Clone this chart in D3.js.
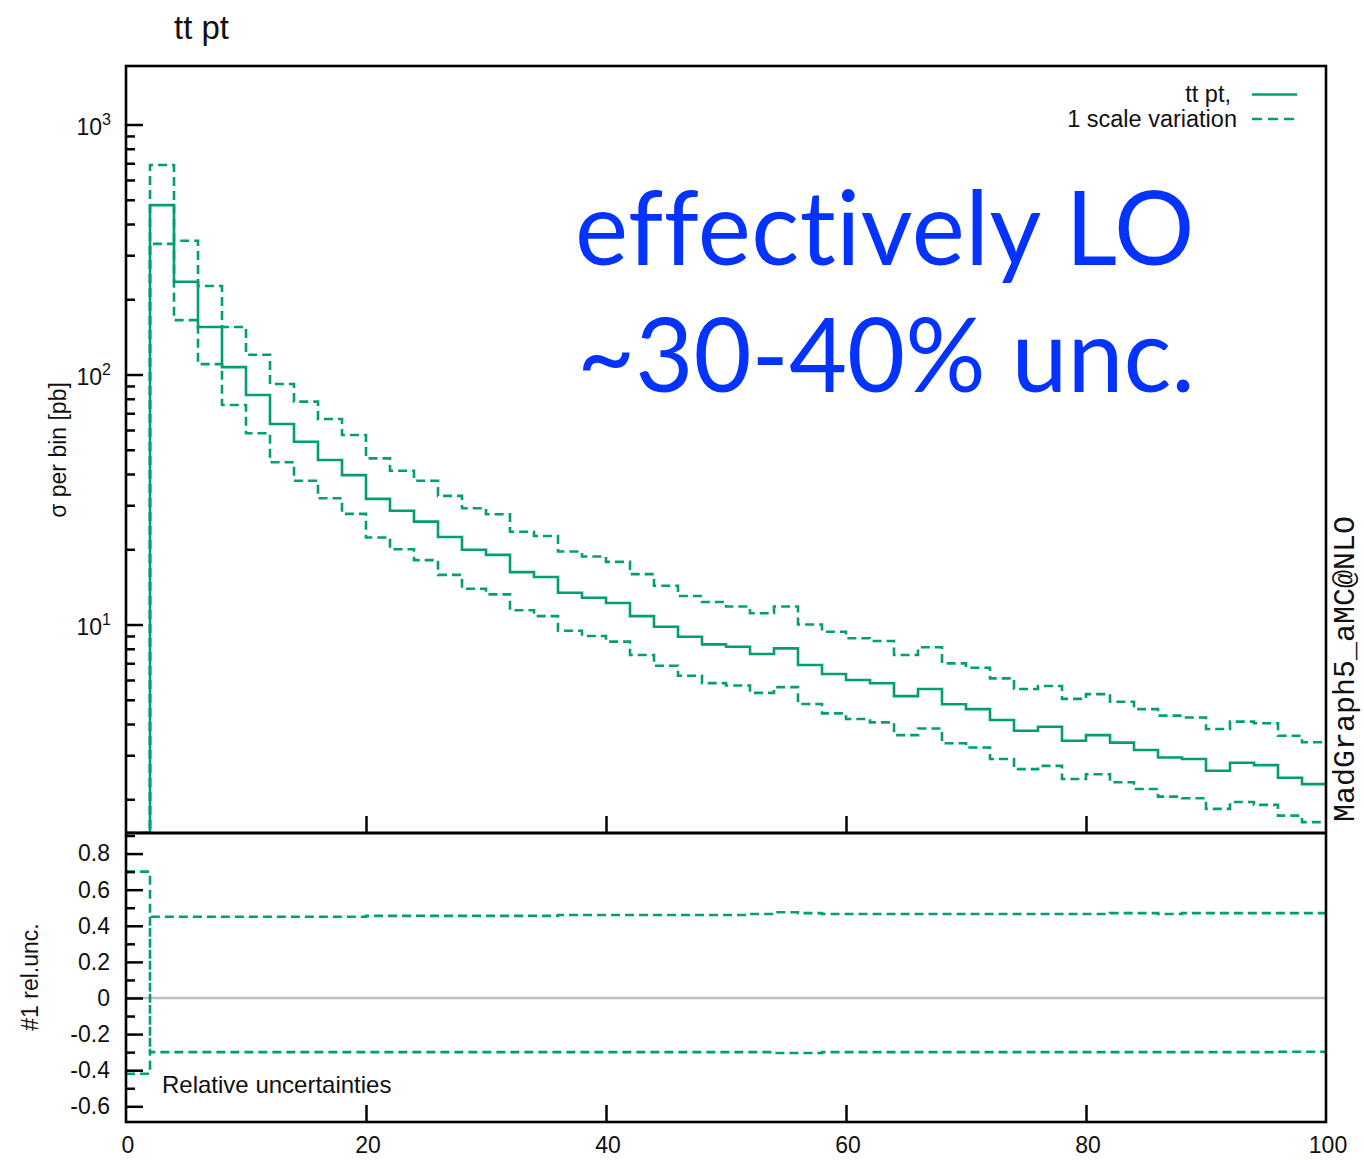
<!DOCTYPE html>
<html><head><meta charset="utf-8">
<script src="https://cdn.jsdelivr.net/npm/d3@7"></script>
<style>
body{margin:0;background:#fff}
svg{display:block}
text{font-family:"Liberation Sans",Arial,Helvetica,sans-serif;fill:#111}
</style>
</head><body>
<svg id="c" width="1364" height="1160"></svg>
<script>
// ---- data (bins of width 2 GeV, lower edges) ----
const binLow = [0,2,4,6,8,10,12,14,16,18,20,22,24,26,28,30,32,34,36,38,40,42,44,46,48,
                50,52,54,56,58,60,62,64,66,68,70,72,74,76,78,80,82,84,86,88,90,92,94,96,98];
const binWidth = 2;
const central = [0,476,235,155,107,82.8,63.4,53.8,45.5,39.6,31.8,28.5,25.8,22.4,19.9,19.0,16.2,15.5,13.4,12.8,
                 12.2,10.8,9.8,8.94,8.33,8.15,7.62,8.03,6.89,6.34,6.0,5.82,5.17,5.52,4.80,4.59,4.15,3.76,3.90,3.43,
                 3.61,3.37,3.15,2.94,2.90,2.60,2.80,2.74,2.44,2.30];
const scaleUp = [0,689,343,226,155,120,91.6,77.9,66.4,57.3,46.2,41.2,37.6,32.7,29.2,27.6,23.5,22.6,19.6,18.7,
                 17.8,15.9,14.3,13.0,12.3,11.8,11.1,11.8,10.0,9.36,8.81,8.59,7.55,8.11,6.99,6.72,6.09,5.52,5.68,5.04,
                 5.27,4.91,4.59,4.32,4.25,3.82,4.09,4.03,3.59,3.38];
const scaleDn = [0,333,165,110,75.5,58.2,44.6,37.6,32.0,27.7,22.3,20.0,18.1,15.8,13.9,13.2,11.4,10.8,9.44,9.0,
                 8.54,7.55,6.84,6.24,5.83,5.70,5.33,5.62,4.81,4.41,4.19,4.06,3.61,3.84,3.35,3.22,2.90,2.64,2.72,2.41,
                 2.52,2.34,2.20,2.05,2.02,1.83,1.95,1.90,1.72,1.62];
const relUp = [0.70,0.45,0.45,0.45,0.45,0.45,0.45,0.45,0.45,0.45,0.455,0.455,0.455,0.455,0.455,0.455,0.455,0.455,0.46,0.46,
               0.46,0.46,0.46,0.46,0.46,0.46,0.465,0.475,0.47,0.465,0.465,0.465,0.465,0.465,0.465,0.465,0.465,0.465,0.465,0.465,
               0.465,0.47,0.47,0.465,0.47,0.47,0.47,0.47,0.47,0.47];
const relDn = [-0.42,-0.30,-0.30,-0.30,-0.30,-0.30,-0.30,-0.30,-0.30,-0.30,-0.30,-0.30,-0.30,-0.30,-0.30,-0.30,-0.30,-0.30,-0.30,-0.30,
               -0.30,-0.30,-0.30,-0.30,-0.30,-0.30,-0.30,-0.305,-0.305,-0.30,-0.30,-0.30,-0.30,-0.30,-0.30,-0.30,-0.30,-0.30,-0.30,-0.30,
               -0.30,-0.30,-0.30,-0.30,-0.30,-0.30,-0.30,-0.30,-0.298,-0.298];
const mainMajor = [10,100,1000];
const mainMinor = [2,3,4,5,6,7,8,9,20,30,40,50,60,70,80,90,200,300,400,500,600,700,800,900];
const relMajor = [0.8,0.6,0.4,0.2,0,-0.2,-0.4,-0.6];
const relMinor = [0.9,0.7,0.5,0.3,0.1,-0.1,-0.3,-0.5];
const xLabels = [0,20,40,60,80,100];
const xInner = [20,40,60,80];

// ---- layout ----
const L=126,R=1326,T=66,MB=833,B=1122;
const green="#009E73";
const svg=d3.select("#c");
const x=d3.scaleLinear().domain([0,100]).range([L,R]);
const y=d3.scaleLog().domain([1.466,1714]).range([MB,T]).clamp(true);
const yr=d3.scaleLinear().domain([-0.687,0.914]).range([B,MB]);

svg.append("defs").append("clipPath").attr("id","cm").append("rect").attr("x",L).attr("y",T).attr("width",R-L).attr("height",MB-T);
svg.select("defs").append("clipPath").attr("id","cr").append("rect").attr("x",L).attr("y",MB).attr("width",R-L).attr("height",B-MB);

function stepPts(vals){
  const p=[];
  vals.forEach((v,i)=>{p.push([binLow[i],v]);p.push([binLow[i]+binWidth,v]);});
  return p;
}
const lineMain=d3.line().x(d=>x(d[0])).y(d=>y(Math.max(d[1],1e-3)));
const lineRel=d3.line().x(d=>x(d[0])).y(d=>yr(d[1]));

// zero line in ratio panel
svg.append("line").attr("x1",L).attr("x2",R).attr("y1",yr(0)).attr("y2",yr(0))
  .attr("stroke","#c0c0c0").attr("stroke-width",2.5);

const gm=svg.append("g").attr("clip-path","url(#cm)");
gm.append("path").attr("d",lineMain(stepPts(scaleUp))).attr("fill","none").attr("stroke",green).attr("stroke-width",2.6).attr("stroke-dasharray","9,5");
gm.append("path").attr("d",lineMain(stepPts(scaleDn))).attr("fill","none").attr("stroke",green).attr("stroke-width",2.6).attr("stroke-dasharray","9,5");
gm.append("path").attr("d",lineMain(stepPts(central))).attr("fill","none").attr("stroke",green).attr("stroke-width",2.6);

const gr=svg.append("g").attr("clip-path","url(#cr)");
gr.append("path").attr("d",lineRel(stepPts(relUp))).attr("fill","none").attr("stroke",green).attr("stroke-width",2.6).attr("stroke-dasharray","9,5");
gr.append("path").attr("d",lineRel(stepPts(relDn))).attr("fill","none").attr("stroke",green).attr("stroke-width",2.6).attr("stroke-dasharray","9,5");
gr.append("path").attr("d",lineRel([[binLow[1],relUp[1]],[binLow[1],relDn[1]]])).attr("fill","none").attr("stroke",green).attr("stroke-width",2.6).attr("stroke-dasharray","9,2");

// ---- axes ----
function styleAxis(g){g.select(".domain").remove();g.selectAll(".tick line").attr("stroke","#000").attr("stroke-width",2.5);}
svg.append("g").attr("transform",`translate(${L},0)`)
  .call(d3.axisLeft(y).tickValues(mainMajor).tickSizeInner(-17).tickSizeOuter(0).tickFormat(""))
  .call(styleAxis);
svg.append("g").attr("transform",`translate(${L},0)`)
  .call(d3.axisLeft(y).tickValues(mainMinor).tickSizeInner(-9).tickSizeOuter(0).tickFormat(""))
  .call(styleAxis);
// log labels 10^n
mainMajor.forEach(v=>{
  const t=svg.append("text").attr("x",111).attr("y",y(v)+10.5).attr("text-anchor","end").style("font-size","23px");
  t.append("tspan").text("10");
  t.append("tspan").attr("dy",-10).style("font-size","16px").text(String(Math.round(Math.log10(v))));
});
const relFmt = d => String(Math.round(d*10)/10);
const ar=svg.append("g").attr("transform",`translate(${L},0)`)
  .call(d3.axisLeft(yr).tickValues(relMajor).tickSizeInner(-17).tickSizeOuter(0).tickPadding(16).tickFormat(relFmt))
  .call(styleAxis);
ar.selectAll("text").style("font-size","23px").attr("fill","#111").style("font-family",'"Liberation Sans",Arial,sans-serif');
svg.append("g").attr("transform",`translate(${L},0)`)
  .call(d3.axisLeft(yr).tickValues(relMinor).tickSizeInner(-9).tickSizeOuter(0).tickFormat(""))
  .call(styleAxis);
svg.append("g").attr("transform",`translate(0,${MB})`)
  .call(d3.axisBottom(x).tickValues(xInner).tickSizeInner(-17).tickSizeOuter(0).tickFormat(""))
  .call(styleAxis);
svg.append("g").attr("transform",`translate(0,${B})`)
  .call(d3.axisBottom(x).tickValues(xInner).tickSizeInner(-17).tickSizeOuter(0).tickFormat(""))
  .call(styleAxis);
const ax=svg.append("g").attr("transform",`translate(0,${B})`)
  .call(d3.axisBottom(x).tickValues(xLabels).tickSizeInner(0).tickSizeOuter(0).tickPadding(15).tickFormat(d=>String(d)));
ax.select(".domain").remove();
ax.selectAll("text").style("font-size","23px").attr("fill","#111").style("font-family",'"Liberation Sans",Arial,sans-serif');
ax.selectAll(".tick").attr("transform",d=>`translate(${x(d)+2},0)`);

// frame
svg.append("rect").attr("x",L).attr("y",T).attr("width",R-L).attr("height",B-T).attr("fill","none").attr("stroke","#000").attr("stroke-width",2.6);
svg.append("line").attr("x1",L).attr("x2",R).attr("y1",MB).attr("y2",MB).attr("stroke","#000").attr("stroke-width",3);

// ---- texts ----
svg.append("text").attr("x",174).attr("y",39).style("font-size","33px").text("tt pt");
svg.append("text").attr("transform","translate(66,450) rotate(-90)").attr("text-anchor","middle").style("font-size","23px").text("σ per bin [pb]");
svg.append("text").attr("transform","translate(38,977) rotate(-90)").attr("text-anchor","middle").style("font-size","23px").text("#1 rel.unc.");
svg.append("text").attr("x",162).attr("y",1093).style("font-size","24px").text("Relative uncertainties");
svg.append("text").attr("transform","translate(1354,822) rotate(-90)").style("font-family",'"Liberation Mono","Courier New",monospace').style("font-size","30px").text("MadGraph5_aMC@NLO");

// legend
svg.append("text").attr("x",1231).attr("y",102).attr("text-anchor","end").style("font-size","23.5px").text("tt pt,");
svg.append("text").attr("x",1237).attr("y",127).attr("text-anchor","end").style("font-size","23.5px").text("1 scale variation");
svg.append("line").attr("x1",1252).attr("x2",1297).attr("y1",94.5).attr("y2",94.5).attr("stroke",green).attr("stroke-width",2.6);
svg.append("line").attr("x1",1252).attr("x2",1297).attr("y1",119).attr("y2",119).attr("stroke",green).attr("stroke-width",2.6).attr("stroke-dasharray","10,6");

// annotation
const big = {family:"Lato,'Open Sans',sans-serif", size:"102px"};
svg.append("text").attr("x",575).attr("y",265).attr("textLength",620).attr("lengthAdjust","spacingAndGlyphs")
  .style("font-family",big.family).style("font-size",big.size).style("fill","#0433ff").style("letter-spacing","0.5px")
  .style("font-variant-ligatures","none").style("font-feature-settings","'liga' 0, 'clig' 0, 'dlig' 0").text("effectively LO");
svg.append("text").attr("x",577).attr("y",392).attr("textLength",618).attr("lengthAdjust","spacingAndGlyphs")
  .style("font-family",big.family).style("font-size",big.size).style("fill","#0433ff")
  .style("font-variant-ligatures","none").text("~30-40% unc.");
</script>
</body></html>
